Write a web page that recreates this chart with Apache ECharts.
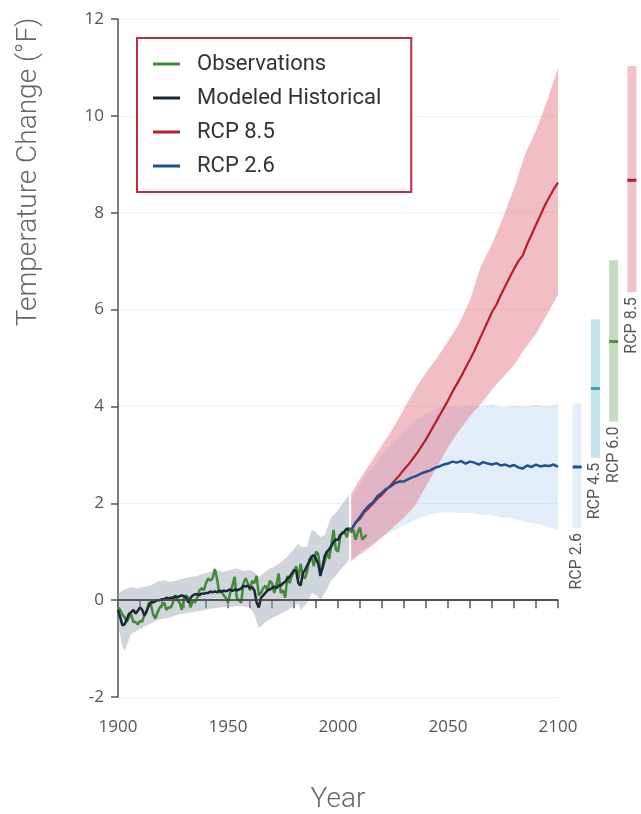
<!DOCTYPE html>
<html>
<head>
<meta charset="utf-8">
<script src="https://cdn.jsdelivr.net/npm/echarts@6/dist/echarts.min.js"></script>
<style>
  html, body { margin: 0; padding: 0; background: #fff; }
  #chart { width: 641px; height: 814px; }
</style>
</head>
<body>
<div id="chart"></div>
<script>
// observations, one value per year from 1900
var obsStart = 1900;
var obsValues = [
  -0.15, -0.2, -0.3, -0.35, -0.45, -0.35, -0.3, -0.45, -0.45, -0.5,
  -0.43, -0.45, -0.3, -0.25, -0.05, -0.1, -0.3, -0.38, -0.25, -0.15,
  -0.1, -0.05, -0.2, -0.15, -0.15, -0.05, 0.1, 0.0, -0.05, -0.2,
  0.05, 0.1, 0.05, -0.15, 0.0, -0.05, 0.05, 0.2, 0.25, 0.2,
  0.35, 0.45, 0.4, 0.45, 0.64, 0.45, 0.15, 0.2, 0.1, 0.05,
  -0.05, 0.15, 0.3, 0.48, 0.05, 0.0, -0.05, 0.35, 0.45, 0.35,
  0.2, 0.4, 0.35, 0.5, 0.1, 0.15, 0.25, 0.3, 0.2, 0.4,
  0.35, 0.15, 0.3, 0.55, 0.15, 0.2, 0.05, 0.5, 0.35, 0.5,
  0.6, 0.7, 0.45, 0.75, 0.5, 0.45, 0.6, 0.85, 0.9, 0.7,
  1.0, 0.95, 0.6, 0.65, 0.8, 1.0, 0.85, 1.15, 1.45, 1.05,
  1.0, 1.3, 1.4, 1.4, 1.3, 1.5, 1.4, 1.45, 1.25, 1.4,
  1.5, 1.25, 1.3, 1.35
];

// modeled historical, one value per year from 1900
var histStart = 1900;
var histValues = [
  -0.2, -0.35, -0.52, -0.5, -0.4, -0.28, -0.25, -0.2, -0.28, -0.22,
  -0.15, -0.2, -0.32, -0.22, -0.12, -0.04, -0.05, -0.02, 0.0, 0.0,
  0.02, 0.02, 0.05, 0.03, 0.05, 0.05, 0.08, 0.06, 0.08, 0.1,
  0.08, 0.05, -0.05, 0.05, 0.1, 0.12, 0.12, 0.1, 0.14, 0.13,
  0.15, 0.15, 0.18, 0.16, 0.18, 0.16, 0.2, 0.17, 0.2, 0.18,
  0.2, 0.22, 0.19, 0.22, 0.2, 0.22, 0.24, 0.3, 0.28, 0.3,
  0.25, 0.27, 0.2, -0.05, -0.15, 0.05, 0.1, 0.15, 0.2, 0.22,
  0.25, 0.28, 0.25, 0.3, 0.3, 0.35, 0.38, 0.45, 0.48, 0.55,
  0.62, 0.6, 0.35, 0.3, 0.55, 0.62, 0.72, 0.8, 0.9, 0.93,
  0.85, 0.75, 0.5, 0.7, 0.92, 1.0, 1.05, 1.12, 1.2, 1.25,
  1.24, 1.35, 1.38, 1.42, 1.48, 1.45
];

// modeled historical range
var histBandYears = [1900, 1902, 1903, 1906, 1909, 1912, 1915, 1918, 1921, 1924,
  1927, 1930, 1933, 1936, 1939, 1942, 1945, 1948, 1951, 1954,
  1957, 1960, 1962, 1964, 1966, 1968, 1971, 1974, 1977, 1980,
  1982, 1983, 1986, 1988, 1990, 1992, 1994, 1997, 1999, 2001,
  2003, 2005];
var histUpper = [0.12, 0.2, 0.22, 0.27, 0.24, 0.28, 0.31, 0.38, 0.41, 0.38,
  0.41, 0.45, 0.48, 0.5, 0.55, 0.58, 0.62, 0.58, 0.62, 0.66,
  0.6, 0.62, 0.58, 0.48, 0.55, 0.62, 0.69, 0.78, 0.9, 1.05,
  1.17, 1.1, 1.1, 1.45, 1.4, 1.3, 1.35, 1.72, 1.8, 1.93,
  2.05, 2.17];
var histLower = [-0.5, -0.95, -1.05, -0.7, -0.62, -0.55, -0.48, -0.41, -0.38, -0.35,
  -0.3, -0.28, -0.25, -0.23, -0.21, -0.18, -0.16, -0.14, -0.14, -0.12,
  -0.13, -0.14, -0.3, -0.58, -0.5, -0.42, -0.35, -0.28, -0.21, -0.12,
  -0.07, -0.21, -0.05, 0.14, 0.1, 0.0, 0.15, 0.41, 0.5, 0.62,
  0.72, 0.83];

// projections, every 2 years from 2006
var projStart = 2006;
var rcp85Values = [
  1.45, 1.6, 1.68, 1.82, 1.9, 2.0, 2.1, 2.18, 2.28, 2.38,
  2.48, 2.58, 2.7, 2.8, 2.92, 3.04, 3.18, 3.32, 3.48, 3.64,
  3.8, 3.96, 4.12, 4.3, 4.46, 4.62, 4.8, 4.97, 5.15, 5.35,
  5.55, 5.75, 5.95, 6.1, 6.3, 6.48, 6.66, 6.84, 7.0, 7.12,
  7.35, 7.55, 7.75, 7.95, 8.15, 8.32, 8.48, 8.62
];
var rcp26Values = [
  1.45, 1.6, 1.72, 1.85, 1.95, 2.02, 2.15, 2.22, 2.3, 2.35,
  2.42, 2.45, 2.45, 2.5, 2.54, 2.57, 2.62, 2.65, 2.68, 2.73,
  2.76, 2.8, 2.82, 2.86, 2.84, 2.87, 2.82, 2.86, 2.84, 2.8,
  2.85, 2.82, 2.8, 2.83, 2.78, 2.8, 2.76, 2.79, 2.74, 2.72,
  2.78, 2.75, 2.8, 2.76, 2.78, 2.77, 2.8, 2.75
];

// projection ranges
var projBandYears = [2006, 2010, 2015, 2020, 2025, 2030, 2035, 2040, 2045, 2050,
  2055, 2060, 2065, 2070, 2075, 2080, 2085, 2090, 2095, 2100];
var rcp85Upper = [2.2, 2.5, 2.85, 3.2, 3.55, 3.95, 4.35, 4.7, 5.0, 5.35,
  5.7, 6.2, 6.9, 7.35, 7.9, 8.5, 9.2, 9.7, 10.3, 11.0];
var rcp85Lower = [0.8, 0.95, 1.1, 1.3, 1.5, 1.7, 1.95, 2.35, 2.75, 3.15,
  3.5, 3.8, 4.05, 4.35, 4.6, 4.85, 5.2, 5.5, 5.9, 6.3];
var rcp26Upper = [2.1, 2.4, 2.7, 3.0, 3.25, 3.5, 3.7, 3.85, 3.95, 4.0,
  3.98, 4.02, 4.0, 4.05, 3.98, 4.02, 4.0, 4.05, 4.0, 4.05];
var rcp26Lower = [0.85, 1.0, 1.15, 1.3, 1.42, 1.55, 1.65, 1.75, 1.8, 1.82,
  1.8, 1.8, 1.77, 1.75, 1.7, 1.68, 1.62, 1.58, 1.52, 1.45];

// 2081-2100 ranges on the right
var rcpNames = ['RCP 2.6', 'RCP 4.5', 'RCP 6.0', 'RCP 8.5'];
var rcpLow = [1.49, 2.94, 3.69, 6.36];
var rcpHigh = [4.06, 5.8, 7.02, 11.03];
var rcpMean = [2.75, 4.37, 5.34, 8.67];
var rcpBarColors = ['#e4eef9', '#bfe3e9', '#c5dcc3', '#f2c2ca'];
var rcpMarkColors = ['#1f4e8c', '#35a6b0', '#4e8f47', '#a8202f'];

var yTicks = [-2, 0, 2, 4, 6, 8, 10, 12];

function yearly(start, step, values) {
  return values.map(function (v, i) { return [start + i * step, v]; });
}

// shaded range drawn as one polygon through the axis scales
function band(name, years, hi, lo, color) {
  return {
    name: name, type: 'custom', silent: true,
    encode: { x: 0, y: [1, 2] },
    data: years.map(function (y, i) { return [y, lo[i], hi[i]]; }),
    renderItem: function (params, api) {
      if (params.dataIndex !== 0) return;
      var n = params.dataInsideLength;
      var top = [], bottom = [];
      for (var j = 0; j < n; j++) {
        top.push(api.coord([api.value(0, j), api.value(2, j)]));
        bottom.unshift(api.coord([api.value(0, j), api.value(1, j)]));
      }
      return {
        type: 'polygon',
        shape: { points: top.concat(bottom) },
        style: { fill: color }
      };
    }
  };
}

var chart = echarts.init(document.getElementById('chart'));

var series = [
  band('hist range', histBandYears, histUpper, histLower, 'rgba(150,160,180,0.45)'),
  band('rcp26 range', projBandYears, rcp26Upper, rcp26Lower, 'rgba(170,205,240,0.35)'),
  band('rcp85 range', projBandYears, rcp85Upper, rcp85Lower, 'rgba(225,100,120,0.42)'),
  {
    name: 'Observations', type: 'line', data: yearly(obsStart, 1, obsValues),
    showSymbol: false, color: '#428a36', lineStyle: { width: 2.5 },
    markLine: {
      silent: true, symbol: 'none', label: { show: false },
      lineStyle: { color: '#444', width: 1.5, type: 'solid' },
      data: [{ yAxis: 0 }]
    }
  },
  {
    name: 'Modeled Historical', type: 'line', data: yearly(histStart, 1, histValues),
    showSymbol: false, color: '#1b2838', lineStyle: { width: 2.5 }
  },
  {
    name: 'RCP 8.5', type: 'line', data: yearly(projStart, 2, rcp85Values),
    showSymbol: false, color: '#b3202c', lineStyle: { width: 2.2 }
  },
  {
    name: 'RCP 2.6', type: 'line', data: yearly(projStart, 2, rcp26Values),
    showSymbol: false, color: '#20508f', lineStyle: { width: 2.5 }
  },
  {
    name: 'ranges', type: 'custom', xAxisIndex: 1, yAxisIndex: 1, silent: true,
    data: rcpNames.map(function (n, i) { return [i, rcpLow[i], rcpHigh[i], rcpMean[i]]; }),
    renderItem: function (params, api) {
      var i = api.value(0);
      var top = api.coord([i, api.value(2)]);
      var bottom = api.coord([i, api.value(1)]);
      var mid = api.coord([i, api.value(3)]);
      var w = 9;
      return {
        type: 'group',
        children: [
          { type: 'rect', shape: { x: top[0] - w / 2, y: top[1], width: w, height: bottom[1] - top[1] },
            style: { fill: rcpBarColors[i] } },
          { type: 'rect', shape: { x: mid[0] - w / 2, y: mid[1] - 1.5, width: w, height: 3 },
            style: { fill: rcpMarkColors[i] } },
          { type: 'text', x: bottom[0], y: bottom[1] + 5, rotation: Math.PI / 2,
            style: { text: rcpNames[i], align: 'right', verticalAlign: 'middle',
              fill: '#555', font: '16px Roboto' } }
        ]
      };
    }
  }
];

chart.setOption({
  animation: false,
  textStyle: { fontFamily: 'Roboto' },
  grid: [
    { left: 118, right: 83, top: 19, bottom: 117 },
    { left: 568, width: 78, top: 19, bottom: 117 }
  ],
  legend: {
    data: ['Observations', 'Modeled Historical', 'RCP 8.5', 'RCP 2.6'],
    orient: 'vertical', left: 137, top: 38,
    padding: [15, 30, 15, 16], itemGap: 12,
    itemWidth: 27, itemHeight: 3, icon: 'rect',
    backgroundColor: '#fff', borderColor: '#b5313f', borderWidth: 2,
    textStyle: { fontSize: 22, color: '#333', padding: [0, 0, 0, 12] }
  },
  xAxis: [
    {
      type: 'value', min: 1900, max: 2100, interval: 10,
      axisLine: { show: true, lineStyle: { color: '#555', width: 1.5 } },
      axisTick: { show: true, length: 8, lineStyle: { color: '#555', width: 1.5 } },
      splitLine: { show: false },
      axisLabel: {
        fontSize: 17, color: '#555', margin: 22, fontFamily: 'Open Sans',
        formatter: function (v) { return v % 50 === 0 ? String(v) : ''; }
      }
    },
    { type: 'category', gridIndex: 1, data: rcpNames, show: false }
  ],
  yAxis: [
    {
      type: 'value', min: yTicks[0], max: yTicks[yTicks.length - 1], interval: 2,
      axisLine: { show: true, lineStyle: { color: '#555', width: 1.5 } },
      axisTick: { show: true, length: 7, lineStyle: { color: '#555', width: 1.5 } },
      splitLine: { show: true, lineStyle: { color: '#efefef' } },
      axisLabel: { fontSize: 17, color: '#555', margin: 14, fontFamily: 'Open Sans' }
    },
    { type: 'value', gridIndex: 1, min: yTicks[0], max: yTicks[yTicks.length - 1], show: false }
  ],
  graphic: [
    { type: 'text', x: 29, y: 172, rotation: Math.PI / 2,
      style: { text: 'Temperature Change (°F)', align: 'center', verticalAlign: 'middle',
        font: '300 28px Roboto', fill: '#666' } },
    { type: 'text', x: 338, y: 800,
      style: { text: 'Year', align: 'center', verticalAlign: 'middle',
        font: '300 28px Roboto', fill: '#666' } }
  ],
  series: series
});
</script>
</body>
</html>
